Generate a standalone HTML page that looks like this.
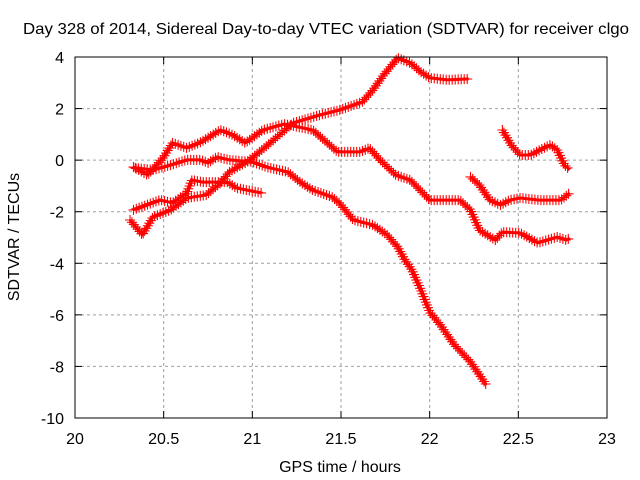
<!DOCTYPE html>
<html><head><meta charset="utf-8"><style>
body{margin:0;background:#fff}
svg{display:block;font-family:"Liberation Sans",sans-serif}
</style></head><body>
<svg id="chart" width="640" height="480">
<rect width="640" height="480" fill="#fff"/>
<text x="326" y="34" font-size="16" text-anchor="middle" textLength="606" lengthAdjust="spacingAndGlyphs">Day 328 of 2014, Sidereal Day-to-day VTEC variation (SDTVAR) for receiver clgo</text>
<text x="340" y="472" font-size="16" text-anchor="middle">GPS time / hours</text>
<text transform="translate(19,237) rotate(-90)" font-size="16" text-anchor="middle">SDTVAR / TECUs</text>
<g id="grid"></g><g id="series"></g>
<rect x="75" y="57" width="532" height="361" fill="none" stroke="#000" stroke-width="1"/>
</svg>
<script>
const xTicks=[20,20.5,21,21.5,22,22.5,23];
const xTickLabels=["20","20.5","21","21.5","22","22.5","23"];
const yTicks=[4,2,0,-2,-4,-6,-8,-10];
const yTickLabels=["4","2","0","-2","-4","-6","-8","-10"];
const s1x=[20.33,20.41,20.50,20.55,20.63,20.71,20.82,20.89,20.96,21.06,21.18,21.34,21.48,21.61,21.66,21.72,21.81,21.89,22.00,22.06,22.17,22.23,22.28,22.37,22.41,22.51,22.61,22.72,22.77,22.79];
const s1y=[-0.27,-0.58,0.12,0.67,0.47,0.70,1.17,0.98,0.67,1.17,1.40,1.17,0.32,0.32,0.47,0.01,-0.58,-0.77,-1.55,-1.55,-1.55,-1.93,-2.71,-3.10,-2.79,-2.82,-3.21,-2.98,-3.10,-3.02];
const s2x=[20.31,20.38,20.44,20.54,20.63,20.74,20.82,20.87,20.97,21.04,21.12,21.23,21.38,21.49,21.62,21.68,21.74,21.82,21.89,21.95,22.00,22.10,22.22];
const s2y=[-2.32,-2.90,-2.20,-1.93,-1.47,-1.35,-0.89,-0.46,-0.07,0.32,0.78,1.44,1.75,1.94,2.26,2.72,3.30,3.96,3.77,3.42,3.19,3.11,3.15];
const s3x=[20.34,20.44,20.54,20.63,20.71,20.75,20.80,20.87,21.00,21.08,21.20,21.27,21.34,21.45,21.49,21.57,21.68,21.76,21.82,21.86,21.90,21.95,22.00,22.06,22.14,22.23,22.32];
const s3y=[-0.30,-0.38,-0.19,0.01,0.01,-0.11,0.12,0.01,-0.07,-0.27,-0.46,-0.85,-1.16,-1.43,-1.66,-2.32,-2.51,-2.90,-3.37,-3.87,-4.26,-5.03,-5.89,-6.39,-7.17,-7.83,-8.72];
const s4x=[20.33,20.48,20.55,20.63,20.66,20.72,20.86,20.91,21.05];
const s4y=[-1.93,-1.54,-1.66,-1.27,-0.77,-0.85,-0.85,-1.08,-1.27];
const s5x=[22.41,22.46,22.51,22.57,22.62,22.68,22.72,22.76,22.79];
const s5y=[1.17,0.59,0.20,0.20,0.39,0.59,0.39,-0.19,-0.38];
const s6x=[22.23,22.28,22.34,22.40,22.45,22.51,22.62,22.74,22.79];
const s6y=[-0.65,-0.96,-1.55,-1.74,-1.55,-1.47,-1.55,-1.55,-1.27];

const NS="http://www.w3.org/2000/svg";
const L=75,R=607,T=57,B=418;
const X=v=>L+(v-20)/3*(R-L);
const Y=v=>T+(4-v)/14*(B-T);
const grid=document.getElementById('grid');
const ser=document.getElementById('series');
function mk(tag,attrs,parent){const e=document.createElementNS(NS,tag);for(const k in attrs)e.setAttribute(k,attrs[k]);parent.appendChild(e);return e;}
xTicks.forEach((t,i)=>{
  const x=X(t);
  if(i>0&&i<xTicks.length-1){
    const g=mk('line',{x1:x,x2:x,y1:T,y2:B,stroke:'#a0a0a0','stroke-dasharray':'3,3'},grid);
    
    
  }
  mk('line',{x1:x,x2:x,y1:B,y2:B-7,stroke:'#000'},grid);
  mk('line',{x1:x,x2:x,y1:T,y2:T+7,stroke:'#000'},grid);
  const tx=mk('text',{x:x,y:B+26,'font-size':16,'text-anchor':'middle'},grid);
  tx.textContent=xTickLabels[i];
  
  
});
yTicks.forEach((t,i)=>{
  const y=Y(t);
  if(i>0&&i<yTicks.length-1){
    const g=mk('line',{x1:L,x2:R,y1:y,y2:y,stroke:'#a0a0a0','stroke-dasharray':'3,3'},grid);
    
    
  }
  mk('line',{x1:L,x2:L+7,y1:y,y2:y,stroke:'#000'},grid);
  mk('line',{x1:R,x2:R-7,y1:y,y2:y,stroke:'#000'},grid);
  const tx=mk('text',{x:L-11,y:y+6,'font-size':16,'text-anchor':'end'},grid);
  tx.textContent=yTickLabels[i];
  
  
});
const all=[[s1x,s1y],[s2x,s2y],[s3x,s3y],[s4x,s4y],[s5x,s5y],[s6x,s6y]];
all.forEach((s,si)=>{
  const g=mk('g',{},ser);
  
  
  const d=s[0].map((v,i)=>(i?'L':'M')+X(v).toFixed(1)+','+Y(s[1][i]).toFixed(1)).join('');
  const p=mk('path',{d:d,fill:'none',stroke:'#ff0000','stroke-width':3,'stroke-linejoin':'round'},g);
  
  
  const len=p.getTotalLength();
  let md='';
  for(let l=0;l<=len;l+=3){const pt=p.getPointAtLength(l);md+=`M${(pt.x-5).toFixed(1)},${pt.y.toFixed(1)}h10M${pt.x.toFixed(1)},${(pt.y-5).toFixed(1)}v10`;}
  const m=mk('path',{d:md,stroke:'#ff0000','stroke-width':1.1,fill:'none'},g);
  
  
});
</script>
</body></html>
